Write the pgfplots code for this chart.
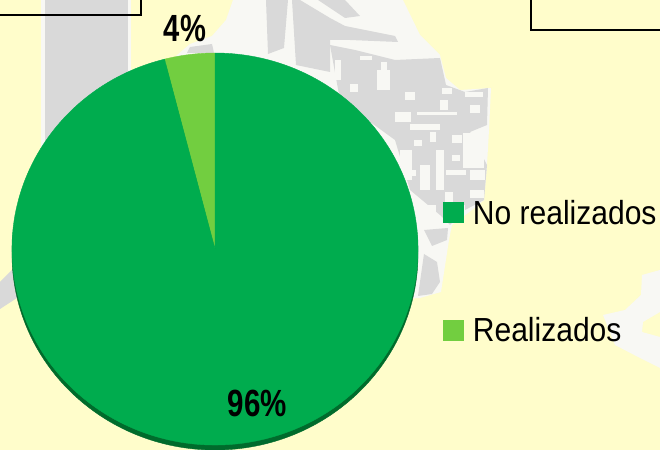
\documentclass[border=0pt]{standalone}
\usepackage{pgfplots}
\pgfplotsset{compat=1.18}
\usepackage{fontspec}
\setmainfont{Liberation Sans}
\definecolor{bgc}{HTML}{FFFDCB}
\definecolor{mapg}{HTML}{D9D9D9}
\definecolor{mapw}{HTML}{F8F8F4}
\definecolor{dk}{HTML}{00AC4E}
\definecolor{lt}{HTML}{72CE40}
\definecolor{sh}{HTML}{006B2C}
\pgfplotsset{
  pie slice/.style={
    scatter, only marks, forget plot, mark=*, mark size=0pt,
    mark options={draw=none,fill=none},
    point meta=\thisrow{share},
    visualization depends on={\thisrow{start}\as\slicestart},
    visualization depends on={\thisrow{share}\as\sliceshare},
    scatter/@pre marker code/.code={%
      \pgfmathsetmacro\sa{90+3.6*\slicestart}%
      \pgfmathsetmacro\se{\sa+3.6*\sliceshare}%
      \scope
      \fill[#1] (0,0) -- (\sa:203bp and 196bp) arc[start angle=\sa,end angle=\se,x radius=203bp,y radius=196bp] -- cycle;
    },
    scatter/@post marker code/.code={\endscope},
  }
}
\begin{document}
\begin{tikzpicture}
\useasboundingbox (0,0) rectangle (660bp,450bp);
\fill[bgc] (0,0) rectangle (660bp,450bp);
\begin{scope}[x=1bp,y=-1bp,yshift=450bp]
  % map behind the chart
  \fill[mapw] (41,0) -- (131,0) -- (131,150) -- (41,150) -- cycle;
  \fill[mapg] (45,0) -- (128,0) -- (128,150) -- (45,150) -- cycle;
  \fill[mapg] (0,282) -- (14,268) -- (20,296) -- (0,309) -- cycle;
  \fill[mapw] (176,56) -- (190,44) -- (212,36) -- (226,20) -- (233,0) -- (403,0) -- (420,35) -- (440,55) -- (446,78) -- (460,90) -- (491,88) -- (489,130) -- (487,165) -- (484,200) -- (472,210) -- (452,225) -- (449,240) -- (441,292) -- (420,298) -- (380,300) -- (215,250) -- cycle;
  % upper streaks
  \fill[mapg] (187,53) -- (190,47) -- (212,44) -- (214,53) -- cycle;
  \fill[mapg] (266,0) -- (288,0) -- (284,48) -- (268,54) -- cycle;
  \fill[mapg] (292,0) -- (300,0) -- (330,18) -- (345,26) -- (395,36) -- (398,42) -- (350,40) -- (330,40) -- (330,72) -- (296,65) -- cycle;
  \fill[mapg] (318,0) -- (345,0) -- (360,16) -- (345,18) -- cycle;
  % main grey mass
  \fill[mapg] (330,45) -- (355,50) -- (395,60) -- (440,58) -- (446,85) -- (465,92) -- (488,88) -- (487,125) -- (470,132) -- (487,165) -- (484,200) -- (465,210) -- (450,225) -- (440,215) -- (410,190) -- (395,140) -- (340,100) -- cycle;
  \fill[mapg] (424,230) -- (448,228) -- (447,240) -- (432,246) -- cycle;
  \fill[mapg] (424,254) -- (437,262) -- (440,282) -- (432,294) -- (418,296) -- cycle;
  % white speckles in the grey
  \foreach \px/\py/\pw/\ph in {377/70/13/20,381/62/6/8,442/88/10/6,465/92/18/5,417/112/40/3,395/112/16/10,410/124/30/6,452/135/10/8,463/133/21/35,470/170/15/10,420/165/10/25,436/150/8/40,400/150/12/30,446/170/20/5,414/140/8/6,430/132/6/10,445/192/8/14,470/190/14/8,455/205/10/6,428/205/8/20,402/195/8/20,440/100/8/10,470/105/10/8,405/92/10/8,360/56/12/4,350/84/8/8,335/60/6/20,410/170/6/6,452/155/8/6}
    \fill[mapw] (\px,\py) rectangle +(\pw,\ph);
  \fill[mapw] (660,270) -- (642,275) -- (641,295) -- (625,310) -- (603,315) -- (615,345) -- (640,358) -- (660,368) -- (660,337) -- (642,332) -- (643,322) -- (660,312) -- cycle;
  % framed boxes cut by the top edge
  \draw[black,line width=2bp] (0,15.5) -- (141,15.5) -- (141,0);
  \draw[black,line width=2bp] (531,0) -- (531,30.5) -- (660,30.5);
\end{scope}
\begin{axis}[
  at={(0,0)}, anchor=south west,
  scale only axis, width=660bp, height=450bp,
  xmin=0, xmax=660, ymin=0, ymax=450,
  hide axis, clip=false,
  legend cell align=left,
  legend style={
    at={(axis cs:443,178.5)}, anchor=west, draw=none, fill=none,
    row sep=92bp, inner sep=0pt, outer sep=0pt,
    nodes={inner sep=0pt,outer sep=0pt},
    /tikz/column 1/.style={column sep=9.5bp},
    font={\fontsize{33.5}{33.5}\selectfont},
  },
  after end axis/.code={
    \node[font={\fontsize{38}{38}\bfseries},xscale=.77,inner sep=0pt] at (axis cs:185,422) {4\%};
    \node[font={\fontsize{38}{38}\bfseries},xscale=.78,inner sep=0pt] at (axis cs:257.5,47) {96\%};
  },
]
% pie depth
\addplot[pie slice=sh] table {
x y start share
215 196 0 100
};
% pie slices: centre, cumulated start, share in percent
\addplot[pie slice=lt] table {
x y start share
215 201 0 4
};
\addplot[pie slice=dk] table {
x y start share
215 201 4 96
};
\addlegendimage{legend image code/.code={\fill[dk] (0bp,-10bp) rectangle (20bp,10bp);}}
\addlegendentry{\scalebox{.9}[1]{No realizados}}
\addlegendimage{legend image code/.code={\fill[lt] (0bp,-10bp) rectangle (20bp,10bp);}}
\addlegendentry{\scalebox{.9}[1]{Realizados}}
\end{axis}
\end{tikzpicture}
\end{document}
